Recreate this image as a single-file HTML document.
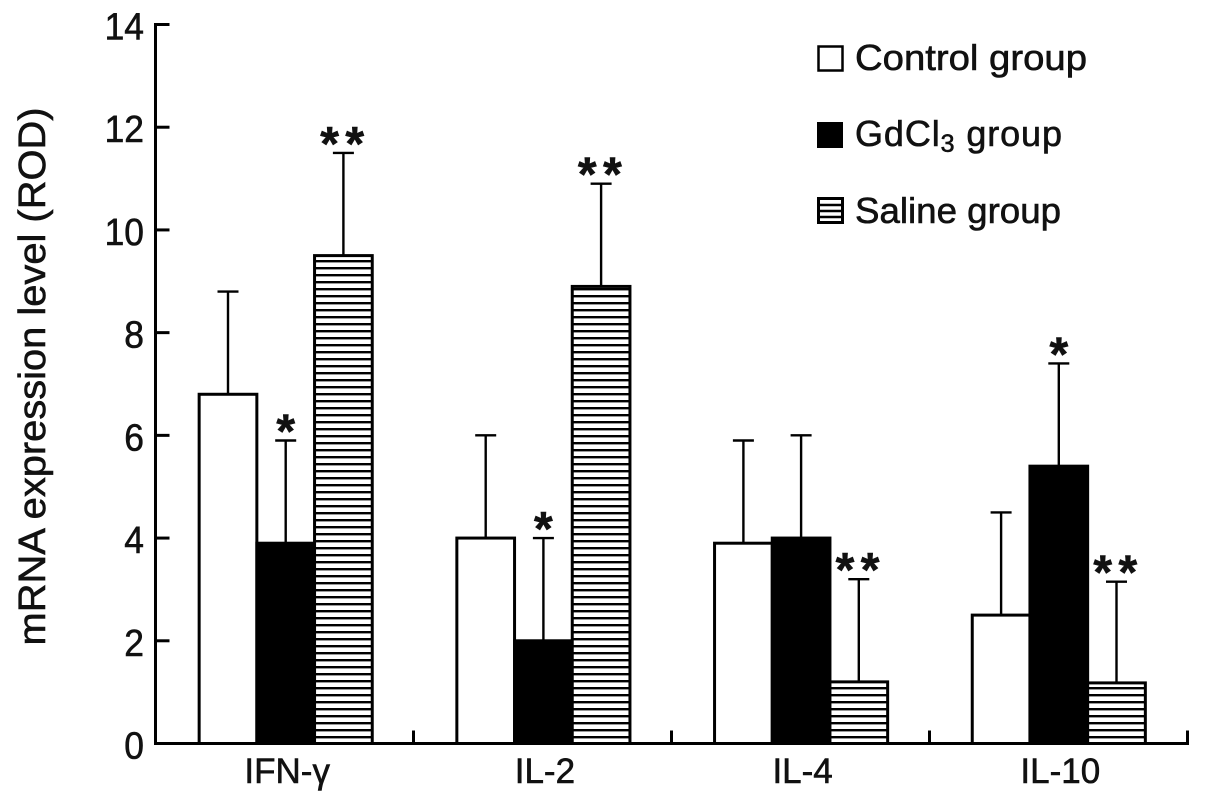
<!DOCTYPE html>
<html>
<head>
<meta charset="utf-8">
<style>
html,body{margin:0;padding:0;background:#fff;width:1205px;height:806px;overflow:hidden}
svg{display:block;font-family:"Liberation Sans",sans-serif;fill:#111}
text{stroke:#111;stroke-width:.6}
</style>
</head>
<body>
<svg id="chart" width="1205" height="806" viewBox="0 0 1205 806" xmlns="http://www.w3.org/2000/svg">
<defs>
<pattern id="hatch" patternUnits="userSpaceOnUse" x="0" y="743" width="10" height="7">
<rect width="10" height="7" fill="#fff"/>
<rect y="0" width="10" height="2.4" fill="#000"/>
</pattern>
</defs>
<rect width="1205" height="806" fill="#fff"/>
<g id="marks"></g>
<g id="axes"></g>
<text transform="translate(45,376.5) rotate(-90)" text-anchor="middle" font-size="38" textLength="538" lengthAdjust="spacingAndGlyphs">mRNA expression level (ROD)</text>
<g>
<g>
<rect x="818.5" y="46.5" width="24" height="24" fill="#fff" stroke="#000" stroke-width="2.5"/>
<text x="855" y="70" font-size="36" textLength="232" lengthAdjust="spacingAndGlyphs">Control group</text>
</g>
<g>
<rect x="817" y="122" width="26" height="26" fill="#000"/>
<text x="855" y="146" font-size="36" textLength="207" lengthAdjust="spacing">GdCl<tspan font-size="25" dy="6">3</tspan><tspan dy="-6"> group</tspan></text>
</g>
<g>
<rect x="818.5" y="198.5" width="24" height="24" fill="#fff" stroke="#000" stroke-width="3"/>
<path d="M818 205H843M818 211H843M818 217H843" stroke="#000" stroke-width="2.4" fill="none"/>
<text x="855" y="223" font-size="36" textLength="206" lengthAdjust="spacingAndGlyphs">Saline group</text>
</g>
</g>
</svg>
<script>
const categories = ['IFN-γ', 'IL-2', 'IL-4', 'IL-10'];
const controlValues = [6.8, 4.0, 3.9, 2.5];
const gdcl3Values = [3.9, 2.0, 4.0, 5.4];
const salineValues = [9.5, 8.9, 1.2, 1.18];
const controlErrors = [2.0, 2.0, 2.0, 2.0];
const gdcl3Errors = [2.0, 2.0, 2.0, 2.0];
const salineErrors = [2.0, 2.0, 2.0, 1.97];
const gdcl3Stars = ['*', '*', '', '*'];
const salineStars = ['**', '**', '**', '**'];
const yTicks = [0, 2, 4, 6, 8, 10, 12, 14];

const NS = 'http://www.w3.org/2000/svg';
const X0 = 155.5, X1 = 1187.5, Y0 = 743.5, Y14 = 24.5;
const bandW = (X1 - X0) / categories.length;
const barW = 57.7;
function yScale(v) { return Y0 - (v / 14) * (Y0 - Y14); }
function xCenter(i) { return X0 + bandW * (i + 0.5) + 1.2 - i * 0.3; }
function mk(tag, attrs, parent, txt) {
  const el = document.createElementNS(NS, tag);
  for (const k in attrs) el.setAttribute(k, attrs[k]);
  if (txt !== undefined) el.textContent = txt;
  parent.appendChild(el);
  return el;
}
const marks = document.getElementById('marks');
const axes = document.getElementById('axes');
const series = [
  { key: 'control', vals: controlValues, errs: controlErrors, fill: '#fff', stars: null },
  { key: 'gdcl3', vals: gdcl3Values, errs: gdcl3Errors, fill: '#000', stars: gdcl3Stars },
  { key: 'saline', vals: salineValues, errs: salineErrors, fill: 'url(#hatch)', stars: salineStars }
];
series.forEach(function (s, si) {
  s.vals.forEach(function (v, i) {
    const cx = xCenter(i) + (si - 1) * barW;
    const top = yScale(v);
    const errTop = yScale(v + s.errs[i]);
    const stem = mk('line', { x1: cx, x2: cx, y1: top, y2: errTop, stroke: '#000', 'stroke-width': 2.4 }, marks);
    
    
    const cap = mk('line', { x1: cx - 10.5, x2: cx + 10.5, y1: errTop, y2: errTop, stroke: '#000', 'stroke-width': 2.4 }, marks);
    
    
    const bar = mk('rect', { x: cx - barW / 2, y: top, width: barW, height: Y0 - top, fill: s.fill, stroke: '#000', 'stroke-width': 3 }, marks);
    
    
    if (s.stars && s.stars[i]) {
      const dbl = s.stars[i].length > 1;
      const star = mk('text', { x: cx + (dbl ? 2 : 0), y: errTop + 7, 'text-anchor': 'middle', 'font-size': 48, 'font-weight': 'bold', 'letter-spacing': dbl ? 6.5 : 0 }, marks, s.stars[i]);
      
      
    }
  });
});
const yAxis = mk('line', { x1: X0, x2: X0, y1: Y14 - 1.5, y2: Y0 + 1.5, stroke: '#000', 'stroke-width': 3 }, axes);


const xAxis = mk('line', { x1: X0 - 1.5, x2: X1 + 1.5, y1: Y0, y2: Y0, stroke: '#000', 'stroke-width': 3 }, axes);


yTicks.forEach(function (t) {
  const y = yScale(t);
  if (t > 0) {
    const tk = mk('line', { x1: X0, x2: X0 + 14, y1: y, y2: y, stroke: '#000', 'stroke-width': 3 }, axes);
    
    
  }
  const lb = mk('text', { x: 144, y: y + 15, 'text-anchor': 'end', 'font-size': 38, textLength: String(t).length * 19.7, lengthAdjust: 'spacingAndGlyphs' }, axes, String(t));
  
  
});
categories.forEach(function (c, i) {
  const x = X0 + bandW * (i + 1);
  const tk = mk('line', { x1: x, x2: x, y1: Y0, y2: Y0 - 13, stroke: '#000', 'stroke-width': 3 }, axes);
  
  
  const lb = mk('text', { x: xCenter(i) + 1.5, y: 783, 'text-anchor': 'middle', 'font-size': 35 }, axes, c);
  
  
});
</script>
</body>
</html>
